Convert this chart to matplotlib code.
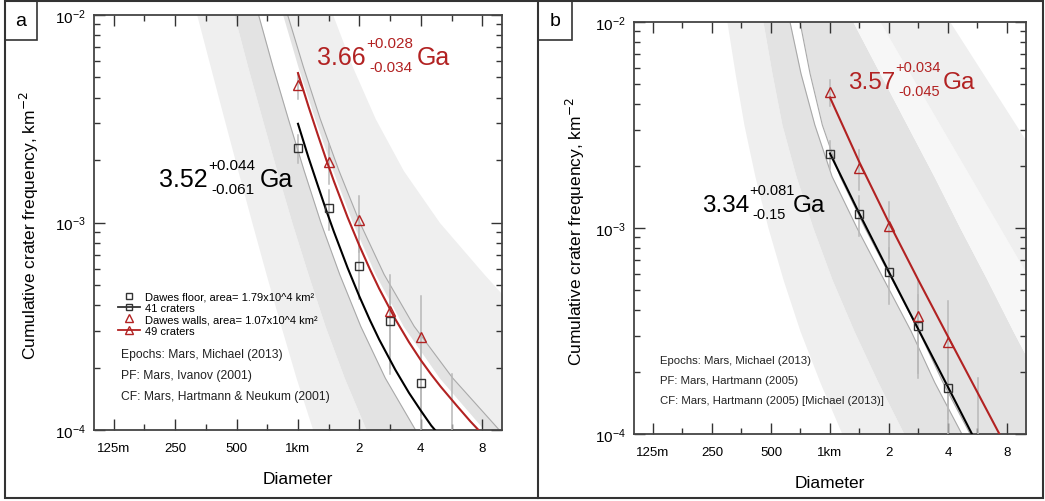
import numpy as np
import matplotlib.pyplot as plt
from matplotlib.patches import Rectangle
from matplotlib.lines import Line2D

plt.rcParams['font.family'] = ['Liberation Sans', 'DejaVu Sans']

W, H = 1045, 502

# cumulative crater counts at root-2 bin edges (km)
bin_d = [1.0, 1.414, 2.0, 2.828, 4.0, 5.657]
floor_n = [41, 21, 11, 6, 3]
walls_n = [49, 21, 11, 4, 3, 1]
floor_area = 1.79e4
walls_area = 1.07e4

# isochron fits (diameter km, cumulative frequency)
a_floor_d = [1.0, 1.125, 1.25, 1.375, 1.5, 1.75, 2.0, 2.25, 2.5, 3.0, 3.5, 4.0, 4.5, 5.0]
a_floor_n = [2.99e-3, 2.06e-3, 1.51e-3, 1.145e-3, 9.02e-4, 6.05e-4, 4.40e-4, 3.39e-4,
             2.73e-4, 1.95e-4, 1.51e-4, 1.24e-4, 1.05e-4, 9.3e-5]
a_walls_d = [1.0, 1.125, 1.25, 1.375, 1.5, 1.75, 2.0, 2.25, 2.5, 3.0, 3.5, 4.0, 4.5, 5.0,
             6.0, 7.0, 8.0]
a_walls_n = [5.25e-3, 3.63e-3, 2.65e-3, 2.01e-3, 1.58e-3, 1.06e-3, 7.73e-4, 5.96e-4,
             4.80e-4, 3.42e-4, 2.65e-4, 2.17e-4, 1.85e-4, 1.62e-4, 1.31e-4, 1.10e-4, 9.57e-5]
b_floor_d = [1.0, 1.414, 2.0, 2.828, 4.0, 5.3]
b_floor_n = [2.3e-3, 1.17e-3, 6.1e-4, 3.21e-4, 1.69e-4, 1.0e-4]
b_walls_d = [1.0, 1.414, 2.0, 2.828, 4.0, 5.657, 7.4]
b_walls_n = [4.3e-3, 2.08e-3, 1.06e-3, 5.57e-4, 2.97e-4, 1.59e-4, 9.8e-5]

# epoch band edges: diameter (km) where each edge crosses these frequencies
levels = [1e-2, 5.62e-3, 3.16e-3, 1.78e-3, 1e-3, 5.62e-4, 3.16e-4, 1.78e-4, 1e-4]
a_edges = {
    'b1': [0.319, 0.372, 0.434, 0.507, 0.594, 0.698, 0.825, 0.979, 1.182],
    'b2': [0.486, 0.567, 0.667, 0.786, 0.933, 1.121, 1.358, 1.687, 2.159],
    'l1': [0.641, 0.754, 0.896, 1.071, 1.294, 1.601, 2.030, 2.677, 3.768],
    'bm': [0.842, 1.0, 1.209, 1.481, 1.850, 2.394, 3.285, 4.938, 8.185],
    'l2': [0.890, 1.063, 1.285, 1.587, 2.009, 2.643, 3.710, 5.731, 9.70],
    'b4': [1.481, 1.850, 2.394, 3.285, 4.938, 8.185, 13.9, 23.4, 41.7],
}
b_edges = {
    'b1': [0.298, 0.328, 0.364, 0.414, 0.483, 0.576, 0.703, 0.889, 1.151],
    'b2': [0.455, 0.506, 0.569, 0.671, 0.819, 1.024, 1.326, 1.758, 2.385],
    'l1': [0.625, 0.711, 0.837, 1.024, 1.373, 1.884, 2.590, 3.421, 4.706],
    'l2': [0.703, 0.791, 0.914, 1.125, 1.508, 2.071, 2.840, 3.770, 5.190],
    'bq': [1.310, 1.799, 2.471, 3.394, 4.606, 6.324, 8.585, 11.79, 16.0],
    'bm': [1.799, 2.559, 3.641, 5.179, 7.367, 10.48, 14.91, 21.21, 30.17],
    'b4': [4.095, 6.034, 8.892, 13.10, 19.31, 28.45, 41.92, 61.78, 91.04],
}

xt = [0.125, 0.25, 0.5, 1, 2, 4, 8]
xt_lab = ['125m', '250', '500', '1km', '2', '4', '8']

light = '#efefef'
mid = '#e3e3e3'
pale = '#f7f7f7'
edge_c = '#a9a9a9'
red = '#b22222'


def px_box(l, t, r, b):
    return [l / W, 1 - b / H, (r - l) / W, (b - t) / H]


def setup(ax):
    ax.set_xscale('log')
    ax.set_yscale('log')
    ax.set_xlim(0.1, 10)
    ax.set_ylim(1e-4, 1e-2)
    ax.set_xticks(xt)
    ax.set_xticklabels(xt_lab)
    ax.set_xticks([v * 1.414 for v in xt[:-1]], minor=True)
    ax.xaxis.set_minor_formatter(plt.NullFormatter())
    ax.tick_params(which='both', direction='in', top=True, right=True,
                   color='#333333', width=1)
    ax.tick_params(which='major', length=8, labelsize=9.5)
    ax.tick_params(axis='x', which='major', pad=9)
    ax.tick_params(axis='y', which='major', pad=6, labelsize=11)
    ax.tick_params(which='minor', length=4)
    for s in ax.spines.values():
        s.set_linewidth(1.3)
        s.set_color('#444444')
    ax.set_xlabel('Diameter', fontsize=12.5, va='center')
    ax.set_ylabel('Cumulative crater frequency, km$^{-2}$', fontsize=12.5, va='center')


def data_points(ax):
    fy = [n / floor_area for n in floor_n]
    fe = [np.sqrt(n) / floor_area for n in floor_n]
    wy = [n / walls_area for n in walls_n]
    we = [np.sqrt(n) / walls_area for n in walls_n]
    fd = bin_d[:len(floor_n)]
    wd = bin_d[:len(walls_n)]
    for d, y, e in zip(fd + wd, fy + wy, fe + we):
        ax.plot([d, d], [max(y - e, 1e-6), y + e], color='#b8b8b8', lw=1.1, zorder=3)
    ax.plot(fd, fy, 's', ms=6, mfc='none', mec='#333333', mew=1, zorder=5)
    ax.plot(wd, wy, '^', ms=6.5, mfc='none', mec=red, mew=1, zorder=5)


def bands(ax, e, spec, lines):
    for lo, hi, c in spec:
        ax.fill_betweenx(levels, e[lo], e[hi], color=c, lw=0, zorder=0)
    for k in lines:
        ax.plot(e[k], levels, color=edge_c, lw=0.8, zorder=1)


fig = plt.figure(figsize=(W / 100, H / 100), dpi=100)

axa = fig.add_axes(px_box(94, 16, 502, 431))
setup(axa)
bands(axa, a_edges, [('b1', 'b2', light), ('b2', 'l1', mid), ('bm', 'l2', mid), ('l2', 'b4', light)],
      ['l1', 'l2'])
axa.plot(a_floor_d, a_floor_n, color='black', lw=1.5, zorder=4)
axa.plot(a_walls_d, a_walls_n, color=red, lw=1.5, zorder=4)
data_points(axa)
axa.xaxis.set_label_coords(0.499, -0.118)
axa.yaxis.set_label_coords(-0.157, 0.496)

handles = [
    Line2D([], [], ls='none', marker='s', ms=5, mfc='none', mec='#333333'),
    Line2D([], [], color='#333333', lw=1.3, marker='s', ms=5, mfc='none', mec='#333333'),
    Line2D([], [], ls='none', marker='^', ms=5.5, mfc='none', mec=red),
    Line2D([], [], color=red, lw=1.3, marker='^', ms=5.5, mfc='none', mec=red),
]
labels = ['Dawes floor, area= 1.79x10^4 km²', '41 craters',
          'Dawes walls, area= 1.07x10^4 km²', '49 craters']
axa.legend(handles, labels, loc='upper left', bbox_to_anchor=(112 / W, 1 - 287 / H),
           bbox_transform=fig.transFigure, frameon=False,
           prop={'family': ['Liberation Sans Narrow', 'Liberation Sans'], 'size': 8},
           handlelength=2.0, handletextpad=0.5, labelspacing=0.12, borderpad=0)

for i, s in enumerate(['Epochs: Mars, Michael (2013)', 'PF: Mars, Ivanov (2001)',
                       'CF: Mars, Hartmann & Neukum (2001)']):
    fig.text(121 / W, 1 - (355 + 21 * i) / H, s, fontsize=8.7, va='center', color='#222222')

axb = fig.add_axes(px_box(634, 23, 1026, 435))
setup(axb)
bands(axb, b_edges, [('b1', 'b2', light), ('b2', 'l1', mid), ('l2', 'bq', mid),
                     ('bq', 'bm', pale), ('bm', 'b4', light)], ['l1', 'l2'])
axb.plot(b_floor_d, b_floor_n, color='black', lw=1.5, zorder=4)
axb.plot(b_walls_d, b_walls_n, color=red, lw=1.5, zorder=4)
data_points(axb)
axb.xaxis.set_label_coords(0.5, -0.117)
axb.yaxis.set_label_coords(-0.15, 0.495)

for i, s in enumerate(['Epochs: Mars, Michael (2013)', 'PF: Mars, Hartmann (2005)',
                       'CF: Mars, Hartmann (2005) [Michael (2013)]']):
    fig.text(660 / W, 1 - (361 + 20 * i) / H, s, fontsize=8.2, va='center', color='#222222')


def age(x, y, base, up, lo, gx, color, fs, fs2):
    fig.text(x / W, 1 - y / H, base, fontsize=fs, color=color, va='baseline')
    fig.text((x + fs * 2.72) / W, 1 - (y - 21) / H, up, fontsize=fs2, color=color, va='center')
    fig.text((x + fs * 2.72 + 3) / W, 1 - (y + 3) / H, lo, fontsize=fs2, color=color, va='center')
    fig.text(gx / W, 1 - y / H, 'Ga', fontsize=fs, color=color, va='baseline')


age(159, 187, '3.52', '+0.044', '-0.061', 260, 'black', 18, 11)
age(317, 65, '3.66', '+0.028', '-0.034', 417, red, 18, 11)
age(848, 89, '3.57', '+0.034', '-0.045', 943, red, 17.5, 10.5)
age(702, 212, '3.34', '+0.081', '-0.15', 793, 'black', 17.5, 10.5)

# panel frames and labels
fig.add_artist(Rectangle((5 / W, 1 - 499 / H), 1038 / W, 497 / H, transform=fig.transFigure,
                         fill=False, lw=1.5, ec='#333333'))
fig.add_artist(Line2D([538 / W, 538 / W], [1 - 499 / H, 1 - 2 / H], transform=fig.transFigure,
                      lw=1.5, color='#333333'))
for l, r, t in [(5, 37, 'a'), (538, 572, 'b')]:
    fig.add_artist(Rectangle((l / W, 1 - 41 / H), (r - l) / W, 39 / H, transform=fig.transFigure,
                             fill=False, lw=1.2, ec='#333333'))
    fig.text((l + r) / 2 / W, 1 - 22 / H, t, fontsize=14, ha='center', va='center')

fig.savefig('out.png', dpi=100)
